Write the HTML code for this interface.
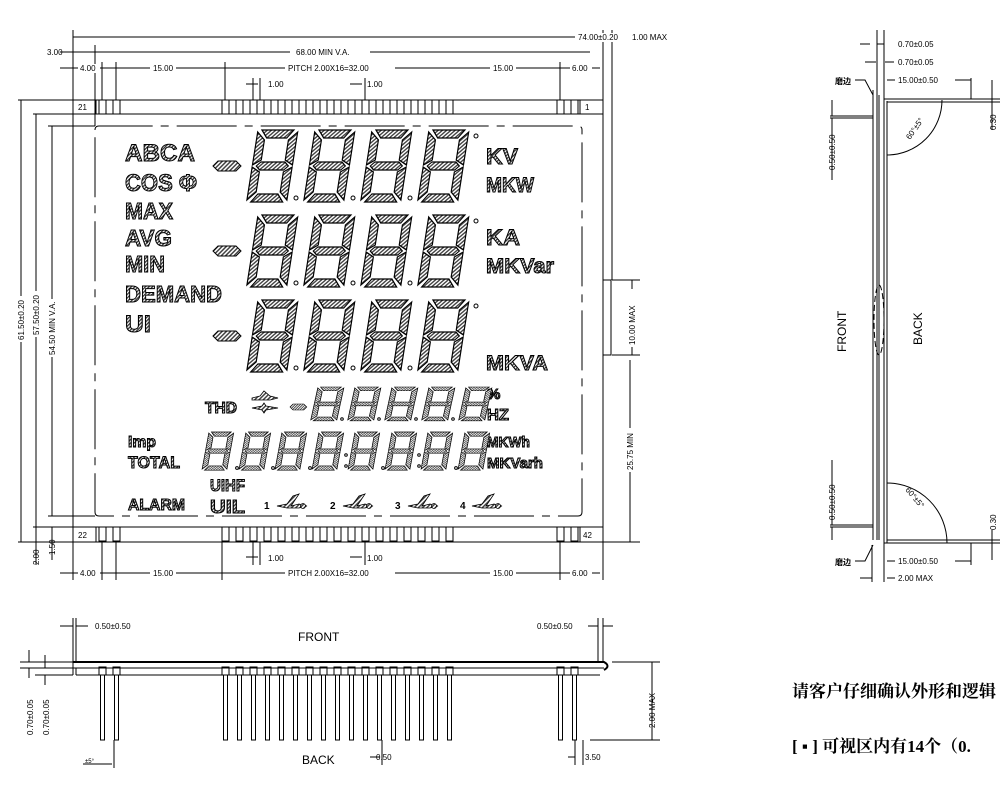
<!DOCTYPE html>
<html><head><meta charset="utf-8"><style>
html,body{margin:0;padding:0;background:#fff;width:1000px;height:800px;overflow:hidden}
svg{display:block}
.t{font-family:"Liberation Sans",sans-serif;font-size:8px;fill:#000}
.lb{font-family:"Liberation Sans",sans-serif;font-weight:bold;fill:url(#h2);stroke:#000;stroke-width:1}
.cn{font-family:"Liberation Serif","Noto Serif CJK SC",serif;font-weight:bold;font-size:17px;fill:#000}
</style></head><body>
<svg width="1000" height="800" viewBox="0 0 1000 800" xmlns="http://www.w3.org/2000/svg">
<defs>
<pattern id="h" width="3" height="3" patternUnits="userSpaceOnUse" patternTransform="rotate(45)">
<rect width="3" height="3" fill="#fff"/><rect width="1.5" height="3" fill="#444"/></pattern>
<pattern id="h2" width="2.5" height="2.5" patternUnits="userSpaceOnUse" patternTransform="rotate(45)">
<rect width="2.5" height="2.5" fill="#fff"/><rect width="1.3" height="2.5" fill="#333"/></pattern>
<g id="dg" transform="skewX(-9)" fill="url(#h)" stroke="#000" stroke-width="1.2">
<polygon points="4,0 36,0 30,8 10,8"/>
<polygon points="8,32 32,32 36,36 32,40 8,40 4,36"/>
<polygon points="10,64 30,64 36,72 4,72"/>
<polygon points="0,2 8,10 8,30 0,35"/>
<polygon points="0,37 8,42 8,62 0,70"/>
<polygon points="40,2 32,10 32,30 40,35"/>
<polygon points="40,37 32,42 32,62 40,70"/>
</g>
<g id="dash"><polygon points="0,5 5,0 23,0 28,5 23,10 5,10" fill="url(#h)" stroke="#000" stroke-width="1"/></g>
<g id="sw" fill="url(#h)" stroke="#000" stroke-width="0.8"><path d="M0,6 L10,4 L16,-4 L22,-6 L14,6 L22,4 L30,6 L22,8 L10,8 Z"/><circle cx="26" cy="6" r="2.5"/></g>
</defs>
<g stroke="#000" fill="none" stroke-width="1">
<rect x="73" y="100" width="530" height="442"/>
<line x1="73" y1="114" x2="603" y2="114"/>
<line x1="73" y1="527" x2="603" y2="527"/>
<line x1="96" y1="100" x2="96" y2="114"/><line x1="96" y1="527" x2="96" y2="542"/>
<line x1="580" y1="100" x2="580" y2="114"/><line x1="580" y1="527" x2="580" y2="542"/>
<path d="M95,130 Q95,126 99,126 L578,126 Q582,126 582,130 L582,512 Q582,516 578,516 L99,516 Q95,516 95,512 Z" stroke-dasharray="60,8,8,8"/>
<rect x="603" y="280" width="8" height="75"/>
<g id="pt">
<rect x="99" y="100" width="7" height="14"/><rect x="113" y="100" width="7" height="14"/>
<rect x="222" y="100" width="7" height="14"/><rect x="236" y="100" width="7" height="14"/><rect x="250" y="100" width="7" height="14"/><rect x="264" y="100" width="7" height="14"/><rect x="278" y="100" width="7" height="14"/><rect x="292" y="100" width="7" height="14"/><rect x="306" y="100" width="7" height="14"/><rect x="320" y="100" width="7" height="14"/><rect x="334" y="100" width="7" height="14"/><rect x="348" y="100" width="7" height="14"/><rect x="362" y="100" width="7" height="14"/><rect x="376" y="100" width="7" height="14"/><rect x="390" y="100" width="7" height="14"/><rect x="404" y="100" width="7" height="14"/><rect x="418" y="100" width="7" height="14"/><rect x="432" y="100" width="7" height="14"/><rect x="446" y="100" width="7" height="14"/>
<rect x="557" y="100" width="7" height="14"/><rect x="571" y="100" width="7" height="14"/>
</g>
<use href="#pt" transform="translate(0,427)"/>
<line x1="73" y1="37" x2="603" y2="37"/><line x1="603" y1="37" x2="612" y2="37"/>
<line x1="73" y1="30" x2="73" y2="100"/><line x1="603" y1="30" x2="603" y2="100"/>
<line x1="612" y1="30" x2="612" y2="280"/>
<line x1="60" y1="52" x2="590" y2="52"/>
<line x1="60" y1="68" x2="600" y2="68"/>
<line x1="102" y1="62" x2="102" y2="100"/><line x1="116" y1="62" x2="116" y2="100"/>
<line x1="225" y1="62" x2="225" y2="100"/><line x1="560" y1="62" x2="560" y2="100"/>
<line x1="246" y1="84" x2="258" y2="84"/><line x1="253" y1="78" x2="253" y2="100"/><line x1="260" y1="78" x2="260" y2="100"/>
<line x1="350" y1="84" x2="362" y2="84"/><line x1="365" y1="78" x2="365" y2="100"/>
<line x1="95" y1="45" x2="95" y2="126"/>
<line x1="18" y1="100" x2="73" y2="100"/><line x1="18" y1="542" x2="73" y2="542"/>
<line x1="21" y1="100" x2="21" y2="542"/>
<line x1="33" y1="114" x2="73" y2="114"/><line x1="36" y1="114" x2="36" y2="527"/>
<line x1="48" y1="126" x2="95" y2="126"/><line x1="52" y1="126" x2="52" y2="516"/><line x1="48" y1="516" x2="95" y2="516"/>
<line x1="33" y1="527" x2="73" y2="527"/>
<line x1="36" y1="527" x2="36" y2="565"/><line x1="52" y1="527" x2="52" y2="560"/>
<line x1="612" y1="280" x2="640" y2="280"/><line x1="612" y1="355" x2="640" y2="355"/>
<line x1="632" y1="280" x2="632" y2="355"/>
<line x1="630" y1="360" x2="630" y2="542"/><line x1="603" y1="542" x2="640" y2="542"/>
<line x1="603" y1="37" x2="625" y2="37"/>
<line x1="73" y1="542" x2="73" y2="580"/><line x1="603" y1="542" x2="603" y2="580"/>
<line x1="102" y1="542" x2="102" y2="580"/><line x1="116" y1="542" x2="116" y2="580"/>
<line x1="222" y1="542" x2="222" y2="580"/><line x1="560" y1="542" x2="560" y2="580"/>
<line x1="253" y1="542" x2="253" y2="565"/><line x1="260" y1="542" x2="260" y2="565"/><line x1="365" y1="542" x2="365" y2="565"/>
<line x1="60" y1="573" x2="600" y2="573"/>
<line x1="246" y1="557" x2="258" y2="557"/><line x1="350" y1="557" x2="362" y2="557"/>
</g>
<g class="t">
<rect x="575" y="33" width="50" height="9" fill="#fff"/>
<text x="578" y="40">74.00±0.20</text>
<text x="632" y="40">1.00 MAX</text>
<rect x="290" y="48" width="80" height="9" fill="#fff"/><text x="296" y="55">68.00 MIN V.A.</text>
<text x="47" y="55">3.00</text>
<rect x="78" y="64" width="22" height="9" fill="#fff"/><text x="80" y="71">4.00</text>
<rect x="150" y="64" width="26" height="9" fill="#fff"/><text x="153" y="71">15.00</text>
<rect x="285" y="64" width="110" height="9" fill="#fff"/><text x="288" y="71">PITCH 2.00X16=32.00</text>
<rect x="490" y="64" width="26" height="9" fill="#fff"/><text x="493" y="71">15.00</text>
<rect x="570" y="64" width="22" height="9" fill="#fff"/><text x="572" y="71">6.00</text>
<text x="268" y="87">1.00</text><text x="367" y="87">1.00</text>
<text x="78" y="110">21</text><text x="585" y="110">1</text>
<text x="78" y="538">22</text><text x="583" y="538">42</text>
<text x="268" y="561">1.00</text><text x="367" y="561">1.00</text>
<rect x="78" y="569" width="22" height="9" fill="#fff"/><text x="80" y="576">4.00</text>
<rect x="150" y="569" width="26" height="9" fill="#fff"/><text x="153" y="576">15.00</text>
<rect x="285" y="569" width="110" height="9" fill="#fff"/><text x="288" y="576">PITCH 2.00X16=32.00</text>
<rect x="490" y="569" width="26" height="9" fill="#fff"/><text x="493" y="576">15.00</text>
<rect x="570" y="569" width="22" height="9" fill="#fff"/><text x="572" y="576">6.00</text>
<g transform="translate(24,340) rotate(-90)"><rect x="-2" y="-8" width="46" height="10" fill="#fff"/><text>61.50±0.20</text></g>
<g transform="translate(39,335) rotate(-90)"><rect x="-2" y="-8" width="46" height="10" fill="#fff"/><text>57.50±0.20</text></g>
<g transform="translate(55,355) rotate(-90)"><rect x="-2" y="-8" width="58" height="10" fill="#fff"/><text>54.50 MIN V.A.</text></g>
<g transform="translate(39,565) rotate(-90)"><text>2.00</text></g>
<g transform="translate(55,555) rotate(-90)"><text>1.50</text></g>
<g transform="translate(635,345) rotate(-90)"><rect x="-2" y="-8" width="58" height="10" fill="#fff"/><text>10.00 MAX</text></g>
<g transform="translate(633,470) rotate(-90)"><rect x="-2" y="-8" width="44" height="10" fill="#fff"/><text>25.75 MIN</text></g>
</g>
<g class="lb">
<text x="125" y="161" font-size="24" textLength="70" lengthAdjust="spacingAndGlyphs">ABCA</text>
<text x="125" y="191" font-size="24" textLength="72" lengthAdjust="spacingAndGlyphs">COS Φ</text>
<text x="125" y="219" font-size="23" textLength="48" lengthAdjust="spacingAndGlyphs">MAX</text>
<text x="125" y="246" font-size="23" textLength="47" lengthAdjust="spacingAndGlyphs">AVG</text>
<text x="125" y="272" font-size="23" textLength="40" lengthAdjust="spacingAndGlyphs">MIN</text>
<text x="125" y="302" font-size="23" textLength="97" lengthAdjust="spacingAndGlyphs">DEMAND</text>
<text x="125" y="332" font-size="24" textLength="26" lengthAdjust="spacingAndGlyphs">UI</text>
<text x="486" y="164" font-size="22" textLength="32" lengthAdjust="spacingAndGlyphs">KV</text>
<text x="486" y="192" font-size="21" textLength="48" lengthAdjust="spacingAndGlyphs">MKW</text>
<text x="486" y="245" font-size="22" textLength="34" lengthAdjust="spacingAndGlyphs">KA</text>
<text x="486" y="273" font-size="21" textLength="68" lengthAdjust="spacingAndGlyphs">MKVar</text>
<text x="486" y="370" font-size="21" textLength="62" lengthAdjust="spacingAndGlyphs">MKVA</text>
<text x="205" y="413" font-size="16" textLength="32" lengthAdjust="spacingAndGlyphs">THD</text>
<text x="487" y="399" font-size="15">%</text>
<text x="487" y="420" font-size="16" textLength="22" lengthAdjust="spacingAndGlyphs">HZ</text>
<text x="128" y="447" font-size="16" textLength="28" lengthAdjust="spacingAndGlyphs">Imp</text>
<text x="128" y="468" font-size="17" textLength="52" lengthAdjust="spacingAndGlyphs">TOTAL</text>
<text x="487" y="447" font-size="15" textLength="43" lengthAdjust="spacingAndGlyphs">MKWh</text>
<text x="487" y="468" font-size="15" textLength="56" lengthAdjust="spacingAndGlyphs">MKVarh</text>
<text x="128" y="510" font-size="16" textLength="57" lengthAdjust="spacingAndGlyphs">ALARM</text>
<text x="210" y="491" font-size="17" textLength="35" lengthAdjust="spacingAndGlyphs">UIHF</text>
<text x="210" y="513" font-size="18" textLength="35" lengthAdjust="spacingAndGlyphs">UIL</text>
</g>
<g font-family="Liberation Sans" font-weight="bold" font-size="10">
<text x="264" y="509">1</text><text x="330" y="509">2</text><text x="395" y="509">3</text><text x="460" y="509">4</text></g>
<use href="#sw" transform="translate(277,500)"/><use href="#sw" transform="translate(343,500)"/><use href="#sw" transform="translate(408,500)"/><use href="#sw" transform="translate(472,500)"/>
<g>
<use href="#dash" transform="translate(213,161)"/>
<use href="#dg" transform="translate(258,130)"/><use href="#dg" transform="translate(315,130)"/><use href="#dg" transform="translate(372,130)"/><use href="#dg" transform="translate(429,130)"/>
<use href="#dash" transform="translate(213,246)"/>
<use href="#dg" transform="translate(258,215)"/><use href="#dg" transform="translate(315,215)"/><use href="#dg" transform="translate(372,215)"/><use href="#dg" transform="translate(429,215)"/>
<use href="#dash" transform="translate(213,331)"/>
<use href="#dg" transform="translate(258,300)"/><use href="#dg" transform="translate(315,300)"/><use href="#dg" transform="translate(372,300)"/><use href="#dg" transform="translate(429,300)"/>
<g fill="#fff" stroke="#000"><circle cx="296" cy="198" r="2"/><circle cx="353" cy="198" r="2"/><circle cx="410" cy="198" r="2"/><circle cx="476" cy="136" r="2"/>
<circle cx="296" cy="283" r="2"/><circle cx="353" cy="283" r="2"/><circle cx="410" cy="283" r="2"/><circle cx="476" cy="221" r="2"/>
<circle cx="296" cy="368" r="2"/><circle cx="353" cy="368" r="2"/><circle cx="410" cy="368" r="2"/><circle cx="476" cy="306" r="2"/>
<circle cx="342" cy="419" r="1.3"/><circle cx="379" cy="419" r="1.3"/><circle cx="416" cy="419" r="1.3"/><circle cx="453" cy="419" r="1.3"/>
</g>
</g>
<g transform="translate(290,404) scale(0.6)"><use href="#dash"/></g>
<g transform="translate(252,393)" fill="url(#h)" stroke="#000" stroke-width="0.8"><path d="M0,5 L8,3 L12,-2 L18,3 L26,5 L18,7 L0,7 Z"/><path d="M0,15 L10,13 L12,10 L14,13 L26,15 L14,17 L12,20 L10,17 Z"/></g>
<g transform="translate(318,387) scale(0.65,0.47)"><use href="#dg"/></g>
<g transform="translate(355,387) scale(0.65,0.47)"><use href="#dg"/></g>
<g transform="translate(392,387) scale(0.65,0.47)"><use href="#dg"/></g>
<g transform="translate(429,387) scale(0.65,0.47)"><use href="#dg"/></g>
<g transform="translate(466,387) scale(0.65,0.47)"><use href="#dg"/></g>
<g transform="translate(209,432) scale(0.62,0.53)"><use href="#dg"/></g>
<g transform="translate(246,432) scale(0.62,0.53)"><use href="#dg"/></g>
<g transform="translate(282,432) scale(0.62,0.53)"><use href="#dg"/></g>
<g transform="translate(319,432) scale(0.62,0.53)"><use href="#dg"/></g>
<g transform="translate(355,432) scale(0.62,0.53)"><use href="#dg"/></g>
<g transform="translate(392,432) scale(0.62,0.53)"><use href="#dg"/></g>
<g transform="translate(428,432) scale(0.62,0.53)"><use href="#dg"/></g>
<g transform="translate(465,432) scale(0.62,0.53)"><use href="#dg"/></g>
<g fill="#fff" stroke="#000"><circle cx="237" cy="468" r="1.4"/><circle cx="273" cy="468" r="1.4"/><circle cx="310" cy="468" r="1.4"/><circle cx="346" cy="455" r="1.3"/><circle cx="346" cy="466" r="1.3"/><circle cx="383" cy="468" r="1.4"/><circle cx="419" cy="455" r="1.3"/><circle cx="419" cy="466" r="1.3"/><circle cx="456" cy="468" r="1.4"/></g>

<g stroke="#000" fill="none">
<path d="M73,662 L604,662 Q611,666 604,670" stroke-width="2"/>
<line x1="73" y1="668" x2="604" y2="668"/>
<line x1="76" y1="675" x2="600" y2="675"/>
<line x1="73" y1="662" x2="73" y2="675"/><line x1="76" y1="668" x2="76" y2="675"/>
<line x1="73" y1="618" x2="73" y2="662"/><line x1="76" y1="618" x2="76" y2="662"/>
<line x1="603" y1="618" x2="603" y2="662"/><line x1="598" y1="618" x2="598" y2="662"/>
<line x1="20" y1="662" x2="73" y2="662"/><line x1="20" y1="668" x2="73" y2="668"/><line x1="35" y1="675" x2="73" y2="675"/>
<line x1="29" y1="650" x2="29" y2="662"/><line x1="29" y1="668" x2="29" y2="678"/>
<line x1="45" y1="655" x2="45" y2="668"/><line x1="45" y1="675" x2="45" y2="685"/>
<line x1="60" y1="626" x2="73" y2="626"/><line x1="76" y1="626" x2="88" y2="626"/>
<line x1="588" y1="626" x2="598" y2="626"/><line x1="603" y1="626" x2="613" y2="626"/>
<line x1="612" y1="662" x2="660" y2="662"/><line x1="590" y1="740" x2="660" y2="740"/>
<line x1="652" y1="662" x2="652" y2="740"/>
<line x1="575" y1="740" x2="575" y2="765"/><line x1="568" y1="757" x2="575" y2="757"/><line x1="583" y1="740" x2="583" y2="765"/>
<line x1="83" y1="764" x2="112" y2="764"/><line x1="114" y1="740" x2="114" y2="768"/>
<line x1="370" y1="757" x2="380" y2="757"/><line x1="382" y1="740" x2="382" y2="765"/>
<g id="lp"><rect x="99" y="667" width="7" height="8"/><rect x="100.5" y="675" width="4" height="65"/></g>
<use href="#lp" transform="translate(14,0)"/>
<use href="#lp" transform="translate(123,0)"/><use href="#lp" transform="translate(137,0)"/><use href="#lp" transform="translate(151,0)"/><use href="#lp" transform="translate(165,0)"/><use href="#lp" transform="translate(179,0)"/><use href="#lp" transform="translate(193,0)"/><use href="#lp" transform="translate(207,0)"/><use href="#lp" transform="translate(221,0)"/><use href="#lp" transform="translate(235,0)"/><use href="#lp" transform="translate(249,0)"/><use href="#lp" transform="translate(263,0)"/><use href="#lp" transform="translate(277,0)"/><use href="#lp" transform="translate(291,0)"/><use href="#lp" transform="translate(305,0)"/><use href="#lp" transform="translate(319,0)"/><use href="#lp" transform="translate(333,0)"/><use href="#lp" transform="translate(347,0)"/>
<use href="#lp" transform="translate(458,0)"/><use href="#lp" transform="translate(472,0)"/>
</g>
<g class="t">
<text x="95" y="629">0.50±0.50</text><text x="537" y="629">0.50±0.50</text>
<text x="376" y="760">0.50</text><text x="585" y="760">3.50</text><text x="85" y="763" font-size="6">±5°</text>
<g transform="translate(33,735) rotate(-90)"><text>0.70±0.05</text></g>
<g transform="translate(49,735) rotate(-90)"><text>0.70±0.05</text></g>
<g transform="translate(655,728) rotate(-90)"><text>2.00 MAX</text></g>
</g>
<text x="298" y="641" font-family="Liberation Sans" font-size="12">FRONT</text>
<text x="302" y="764" font-family="Liberation Sans" font-size="12">BACK</text>

<g stroke="#000" fill="none">
<line x1="873" y1="90" x2="873" y2="540"/><line x1="877" y1="95" x2="877" y2="540"/><line x1="879" y1="95" x2="879" y2="540"/>
<line x1="884" y1="99" x2="884" y2="545"/><line x1="887" y1="101" x2="887" y2="543"/>
<line x1="884" y1="99" x2="1000" y2="99"/><line x1="887" y1="102" x2="1000" y2="102"/>
<line x1="884" y1="543" x2="1000" y2="543"/><line x1="887" y1="540" x2="1000" y2="540"/>
<line x1="830" y1="116" x2="873" y2="116"/><line x1="830" y1="118" x2="873" y2="118"/>
<line x1="830" y1="525" x2="873" y2="525"/><line x1="830" y1="527" x2="873" y2="527"/>
<line x1="832" y1="100" x2="832" y2="116"/><line x1="832" y1="118" x2="832" y2="180"/>
<line x1="832" y1="460" x2="832" y2="525"/><line x1="832" y1="527" x2="832" y2="540"/>
<line x1="860" y1="44" x2="870" y2="44"/><line x1="877" y1="44" x2="884" y2="44"/>
<line x1="865" y1="62" x2="876" y2="62"/><line x1="885" y1="62" x2="894" y2="62"/>
<line x1="887" y1="80" x2="895" y2="80"/><line x1="955" y1="80" x2="971" y2="80"/><line x1="971" y1="78" x2="971" y2="99"/>
<line x1="887" y1="561" x2="895" y2="561"/><line x1="955" y1="561" x2="971" y2="561"/><line x1="971" y1="543" x2="971" y2="565"/>
<line x1="860" y1="578" x2="872" y2="578"/><line x1="887" y1="578" x2="895" y2="578"/>
<line x1="872" y1="545" x2="872" y2="582"/><line x1="884" y1="545" x2="884" y2="582"/>
<line x1="877" y1="30" x2="877" y2="95"/><line x1="884" y1="30" x2="884" y2="99"/>
<line x1="992" y1="80" x2="992" y2="130"/><line x1="992" y1="530" x2="992" y2="560"/>
<path d="M942,100 A55,55 0 0 1 887,155"/><path d="M887,483 A60,60 0 0 1 947,543"/>
<ellipse cx="879" cy="320" rx="5" ry="35" stroke-dasharray="6,3"/>
<path d="M855,80 L865,80 L873,95"/><path d="M855,561 L865,561 L873,545"/>
</g>
<g class="t">
<text x="898" y="47">0.70±0.05</text><text x="898" y="65">0.70±0.05</text><text x="898" y="83">15.00±0.50</text>
<text x="898" y="564">15.00±0.50</text><text x="898" y="581">2.00 MAX</text>
<g transform="translate(910,140) rotate(-55)"><text>60°±5°</text></g>
<g transform="translate(905,490) rotate(50)"><text>60°±5°</text></g>
<g transform="translate(835,170) rotate(-90)"><text>0.50±0.50</text></g>
<g transform="translate(835,520) rotate(-90)"><text>0.50±0.50</text></g>
<g transform="translate(996,130) rotate(-90)"><text>0.30</text></g>
<g transform="translate(996,530) rotate(-90)"><text>0.30</text></g>
</g>
<text x="835" y="84" font-family="Noto Sans CJK SC,sans-serif" font-size="8" font-weight="bold">磨边</text>
<text x="835" y="565" font-family="Noto Sans CJK SC,sans-serif" font-size="8" font-weight="bold">磨边</text>
<text transform="translate(846,352) rotate(-90)" font-family="Liberation Sans" font-size="12">FRONT</text>
<text transform="translate(922,345) rotate(-90)" font-family="Liberation Sans" font-size="12">BACK</text>

<text x="792" y="697" class="cn">请客户仔细确认外形和逻辑</text>
<text x="792" y="752" class="cn">[ ▪ ] 可视区内有14个（0.</text>
</svg>
</body></html>
